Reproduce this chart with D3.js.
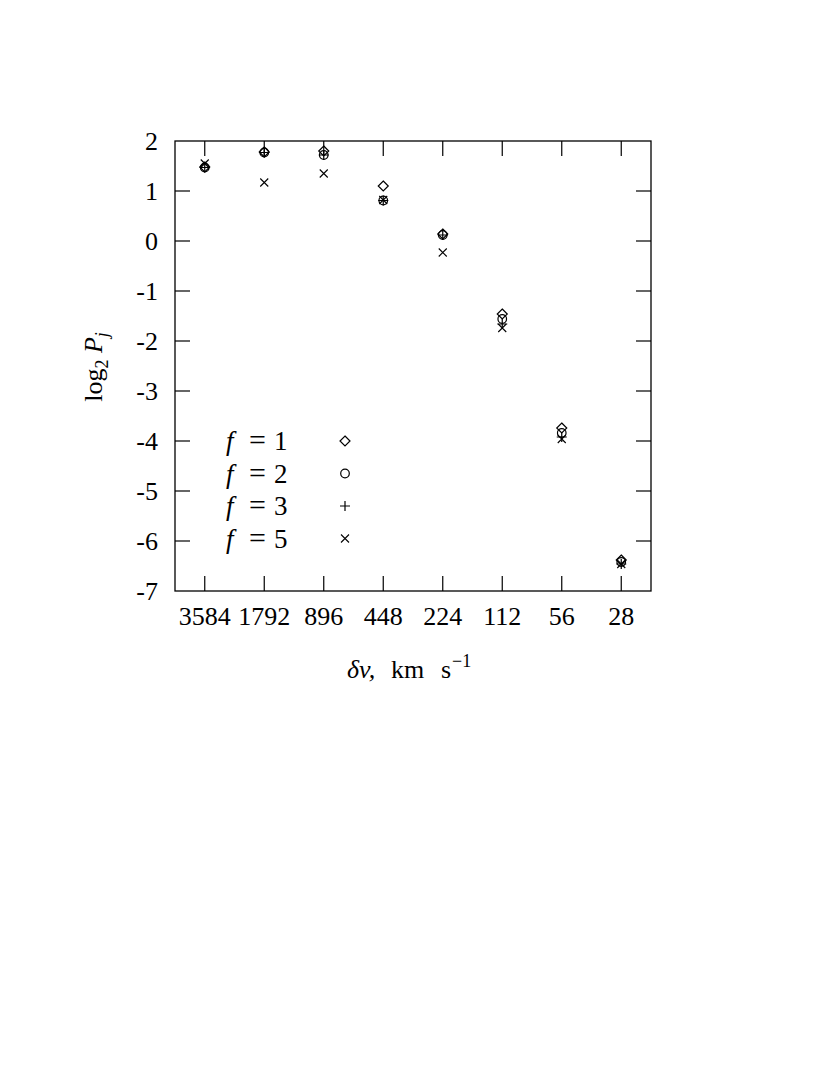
<!DOCTYPE html>
<html><head><meta charset="utf-8">
<script src="https://cdn.jsdelivr.net/npm/d3@7"></script>
<style>body{margin:0;background:#fff}svg{display:block}</style>
</head><body>
<script>
const categories = ["3584","1792","896","448","224","112","56","28"];
const yTicks = [2,1,0,-1,-2,-3,-4,-5,-6,-7];
const f1 = [1.48, 1.78, 1.80, 1.10, 0.14, -1.46, -3.74, -6.38];
const f2 = [1.47, 1.77, 1.72, 0.81, 0.12, -1.56, -3.84, -6.42];
const f3 = [1.47, 1.77, 1.72, 0.81, 0.12, -1.66, -3.92, -6.46];
const f5 = [1.55, 1.17, 1.35, 0.82, -0.23, -1.74, -3.96, -6.46];
const seriesNames = ["1","2","3","5"];
const seriesSymbols = ["diamond","circle","plus","cross"];
const seriesData = [f1,f2,f3,f5];

const W=830,H=1075;
const L=175,R=651,T=141,B=591;
const svg=d3.select("body").append("svg").attr("width",W).attr("height",H);
const font="'Liberation Serif','DejaVu Serif',serif";

const x=d3.scaleLinear().domain([-0.5,categories.length-0.5]).range([L,R]);
const y=d3.scaleLinear().domain([-7,2]).range([B,T]);
const tl=15;

svg.append("rect").attr("x",L).attr("y",T).attr("width",R-L).attr("height",B-T)
  .attr("fill","none").attr("stroke","#000").attr("stroke-width",1.3);

const gy=svg.append("g");
yTicks.forEach(v=>{
  const yy=y(v);
  if(v!==2 && v!==-7){
    gy.append("line").attr("x1",L).attr("x2",L+tl).attr("y1",yy).attr("y2",yy).attr("stroke","#000").attr("stroke-width",1.2);
    gy.append("line").attr("x1",R).attr("x2",R-tl).attr("y1",yy).attr("y2",yy).attr("stroke","#000").attr("stroke-width",1.2);
  }
  gy.append("text").attr("x",158).attr("y",yy+9).attr("text-anchor","end")
    .attr("font-family",font).attr("font-size",26).text(v);
});
const gx=svg.append("g");
categories.forEach((c,i)=>{
  const xx=x(i);
  gx.append("line").attr("x1",xx).attr("x2",xx).attr("y1",B).attr("y2",B-tl).attr("stroke","#000").attr("stroke-width",1.2);
  gx.append("line").attr("x1",xx).attr("x2",xx).attr("y1",T).attr("y2",T+tl).attr("stroke","#000").attr("stroke-width",1.2);
  gx.append("text").attr("x",xx).attr("y",625).attr("text-anchor","middle")
    .attr("font-family",font).attr("font-size",26).text(c);
});

function marker(g,type,cx,cy){
  const s="#000", sw=1.2;
  if(type==="diamond"){
    g.append("path").attr("d",`M${cx},${cy-5}L${cx+5},${cy}L${cx},${cy+5}L${cx-5},${cy}Z`).attr("fill","none").attr("stroke",s).attr("stroke-width",sw);
  } else if(type==="circle"){
    g.append("circle").attr("cx",cx).attr("cy",cy).attr("r",4.3).attr("fill","none").attr("stroke",s).attr("stroke-width",sw);
  } else if(type==="plus"){
    g.append("path").attr("d",`M${cx-5},${cy}L${cx+5},${cy}M${cx},${cy-5}L${cx},${cy+5}`).attr("stroke",s).attr("stroke-width",sw);
  } else {
    g.append("path").attr("d",`M${cx-4},${cy-4}L${cx+4},${cy+4}M${cx-4},${cy+4}L${cx+4},${cy-4}`).attr("stroke",s).attr("stroke-width",sw*0.9);
  }
}

const gm=svg.append("g");
seriesData.forEach((arr,k)=>{
  arr.forEach((v,i)=>marker(gm,seriesSymbols[k],x(i),y(v)));
});

const legY=[441,473.5,506,538.5];
seriesNames.forEach((n,k)=>{
  const by=legY[k]+9;
  svg.append("text").attr("x",226).attr("y",by).attr("font-family",font).attr("font-size",27).attr("font-style","italic").text("f");
  svg.append("text").attr("x",257.5).attr("y",by).attr("text-anchor","middle").attr("font-family",font).attr("font-size",30).text("=");
  svg.append("text").attr("x",274).attr("y",by).attr("font-family",font).attr("font-size",27).text(n);
  marker(svg,seriesSymbols[k],345,legY[k]);
});

const yl=svg.append("text").attr("transform","translate(102,367) rotate(-90)").attr("text-anchor","middle")
  .attr("font-family",font).attr("font-size",26);
yl.append("tspan").text("log");
yl.append("tspan").attr("font-size",18).attr("dy",6).text("2");
yl.append("tspan").attr("dy",-6).attr("font-style","italic").text(" P");
yl.append("tspan").attr("font-size",18).attr("dy",6).attr("font-style","italic").text("j");

const xl=svg.append("text").attr("y",678).attr("font-family",font).attr("font-size",26);
xl.append("tspan").attr("x",347).attr("font-style","italic").text("δv,");
xl.append("tspan").attr("x",391).text("km");
xl.append("tspan").attr("x",441).text("s");
xl.append("tspan").attr("x",452).attr("font-size",18).attr("dy",-11).text("−1");
</script>
</body></html>
